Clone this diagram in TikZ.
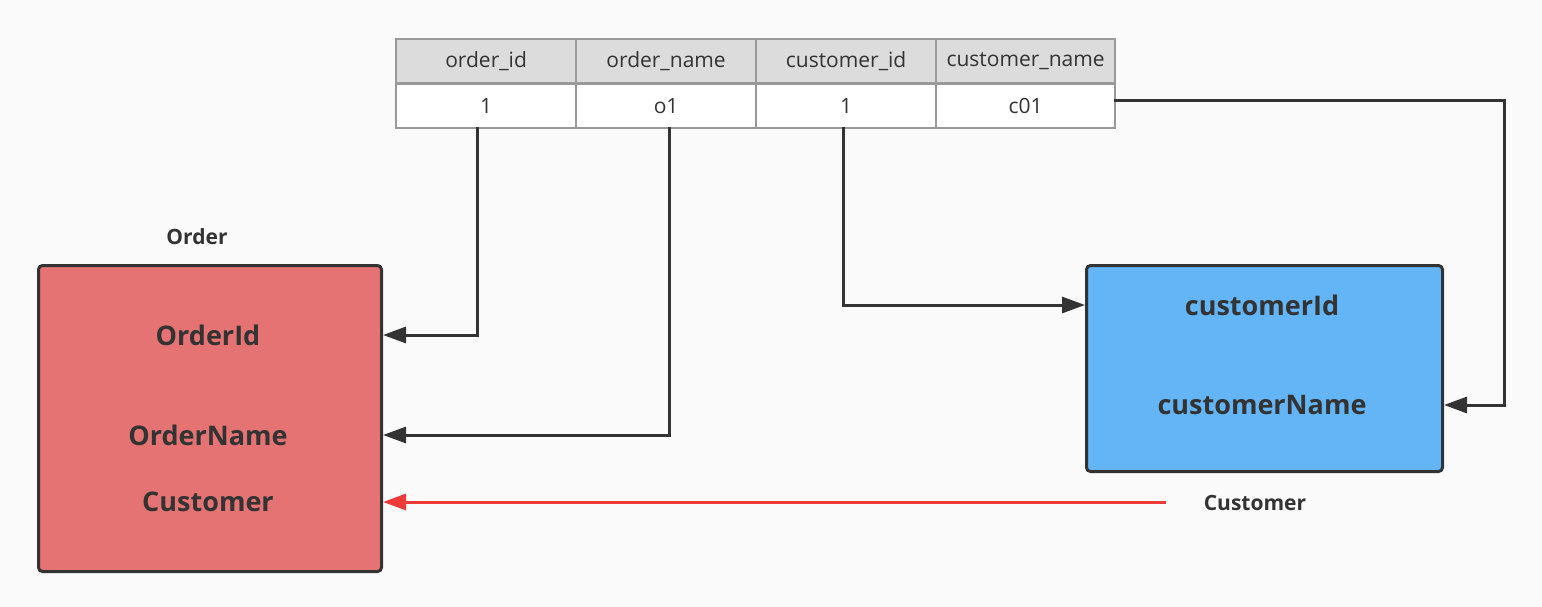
\documentclass[tikz,border=0pt]{standalone}
\usepackage{fontspec}
\setmainfont{Open Sans}
\usetikzlibrary{arrows.meta}
\definecolor{bg}{HTML}{FAFAFA}
\definecolor{txt}{HTML}{333333}
\definecolor{hdr}{HTML}{DCDCDC}
\definecolor{grid}{HTML}{999999}
\definecolor{ordfill}{HTML}{E57373}
\definecolor{custfill}{HTML}{64B5F6}
\definecolor{redline}{HTML}{EE3B37}
\tikzset{
  cell/.style={draw=grid, line width=2.2pt, minimum width=180pt, minimum height=44pt, inner sep=0pt, text=txt, font=\fontsize{21}{24}\selectfont, anchor=north west},
  hcell/.style={cell, fill=hdr},
  dcell/.style={cell, fill=white},
  entity/.style={draw=txt, line width=3pt, rounded corners=4pt, anchor=north west, inner sep=0pt},
  field/.style={text=txt, font=\fontsize{27}{31}\selectfont\bfseries, inner sep=0pt},
  caption/.style={text=txt, font=\fontsize{21}{24}\selectfont\bfseries, inner sep=0pt},
  conn/.style={draw=txt, line width=3pt, -{Triangle[length=23pt,width=16pt]}},
  redconn/.style={draw=redline, line width=3pt, -{Triangle[length=23pt,width=16pt]}}
}
\begin{document}
\begin{tikzpicture}[x=1pt,y=-1pt]
\useasboundingbox (0,0) rectangle (1542,607);
\fill[bg] (0,0) rectangle (1542,607);
% table
\node[hcell] (h1) at (395,38) {order\_id};
\node[hcell] (h2) at (575,38) {order\_name};
\node[hcell] (h3) at (755,38) {customer\_id};
\node[hcell, minimum width=179pt] (h4) at (935,38) {customer\_name};
\node[dcell] (d1) at (395,83) {1};
\node[dcell] (d2) at (575,83) {o1};
\node[dcell] (d3) at (755,83) {1};
\node[dcell, minimum width=179pt] (d4) at (935,83) {c01};
% entities
\node[entity, fill=ordfill, minimum width=343pt, minimum height=306pt] (order) at (37,264) {};
\node[entity, fill=custfill, minimum width=356pt, minimum height=206pt] (cust) at (1085,264) {};
\node[caption] (ordlbl) at (197,237) {Order};
\node[field] (oid) at (208,335) {OrderId};
\node[field] (oname) at (208,435) {OrderName};
\node[field] (ocust) at (208,502) {Customer};
\node[field] (cid) at (1262,305) {customerId};
\node[field] (cname) at (1262,405) {customerName};
\node[caption] (custlbl) at (1255,503) {Customer};
\coordinate (redstart) at (1166,502);
\coordinate (d1b) at (477,127);
\coordinate (d2b) at (669,127);
\coordinate (d3b) at (843,127);
\coordinate (d4e) at (1114,101);
\coordinate (rcorner) at (1504,101);
% connectors
\draw[conn] (d1b) |- (order.east |- oid);
\draw[conn] (d2b) |- (order.east |- oname);
\draw[conn] (d3b) |- (cust.west |- cid);
\draw[conn] (d4e) -- (rcorner) |- (cust.east |- cname);
\draw[redconn] (redstart) -- (order.east |- ocust);
\end{tikzpicture}
\end{document}
